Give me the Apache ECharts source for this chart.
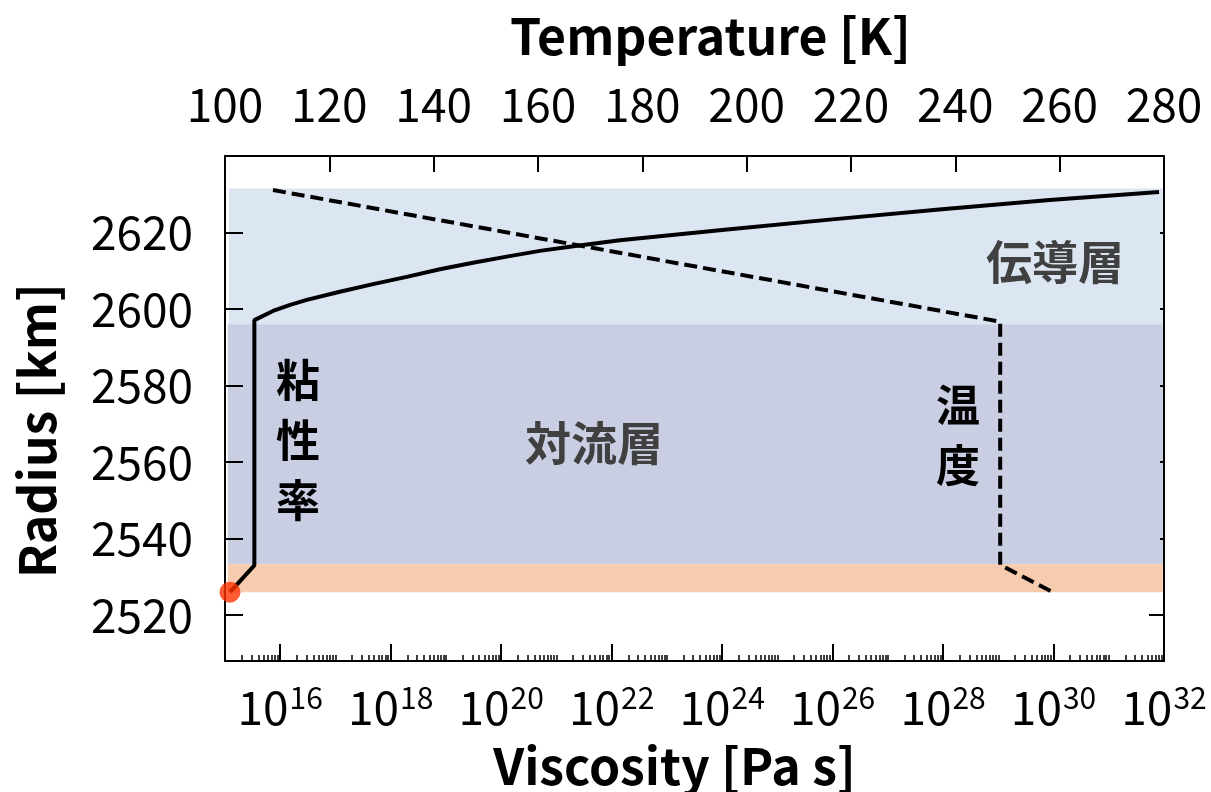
<!DOCTYPE html>
<html>
<head>
<meta charset="utf-8">
<script src="https://cdn.jsdelivr.net/npm/echarts@6/dist/echarts.min.js"></script>
<style>
  html, body { margin: 0; padding: 0; background: #fff; }
  #chart { width: 1211px; height: 792px; }
</style>
</head>
<body>
<div id="chart"></div>
<script>
// Viscosity profile (Pa s) against radius (km)
const viscosity = [1.23e15, 3.4e15, 3.4e15, 7.41e15, 1.51e16, 3.02e16, 1.20e17, 4.79e17, 1.95e18, 7.76e18,
                   3.09e19, 1.26e20, 5.01e20, 2.04e21, 1.41e22, 1.23e24, 1.10e26, 9.55e27, 8.51e29, 8.13e31];
const radiusViscosity = [2526.0, 2533.0, 2597.1, 2599.5, 2601.1, 2602.4, 2604.5, 2606.5, 2608.4, 2610.4,
                         2612.1, 2613.7, 2615.2, 2616.4, 2618.0, 2620.8, 2623.5, 2626.1, 2628.5, 2630.6];

// Temperature profile (K) against radius (km)
const temperature = [109.2, 248.6, 248.6, 258.8];
const radiusTemperature = [2631.1, 2596.7, 2533.1, 2525.9];

// Layer boundaries (km)
const conductiveLayer = [2596.0, 2631.5];
const convectiveLayer = [2533.3, 2596.0];
const bottomLayer = [2526.0, 2533.3];

// Axis ticks
const radiusTicks = [2520, 2540, 2560, 2580, 2600, 2620];
const radiusRange = [2508, 2640];
const viscosityExponents = [16, 18, 20, 22, 24, 26, 28, 30, 32];
const viscosityRange = [15, 32];
const temperatureRange = [100, 280];

const FONT = 'Noto Sans CJK JP';

// minor ticks of the log axis: k * 10^d between the labelled decades
const minorTicks = [];
for (let d = viscosityRange[0]; d < viscosityRange[1]; d++) {
  for (let k = 1; k <= 9; k++) {
    if (k === 1 && viscosityExponents.indexOf(d) >= 0) continue;
    minorTicks.push(d + Math.log10(k));
  }
}

const chart = echarts.init(document.getElementById('chart'), null, { renderer: 'canvas' });

chart.setOption({
  backgroundColor: '#fff',
  animation: false,
  textStyle: { fontFamily: FONT },
  grid: { left: 225, right: 47, top: 156, bottom: 131, containLabel: false, outerBoundsMode: 'none' },
  xAxis: [
    {
      type: 'value', position: 'bottom', min: viscosityRange[0], max: viscosityRange[1], z: 10,
      name: 'Viscosity [Pa s]', nameLocation: 'middle', nameGap: 80,
      nameTextStyle: { fontFamily: FONT, fontSize: 50, fontWeight: 'bold', color: '#000', padding: [0, 40, 0, 0] },
      axisLine: { show: true, lineStyle: { color: '#000', width: 2 } },
      axisTick: { show: true, inside: true, length: 17, customValues: viscosityExponents, lineStyle: { color: '#000', width: 2 } },
      axisLabel: {
        customValues: viscosityExponents, margin: 22,
        formatter: v => '{b|10}{s|' + v + '}',
        rich: {
          b: { fontFamily: FONT, fontSize: 46, color: '#000', lineHeight: 50 },
          s: { fontFamily: FONT, fontSize: 30, color: '#000', verticalAlign: 'top', lineHeight: 30, padding: [0, 0, 0, 1] }
        }
      },
      splitLine: { show: false }
    },
    {
      type: 'value', position: 'bottom', min: viscosityRange[0], max: viscosityRange[1], z: 10,
      axisLine: { show: false },
      axisTick: { show: true, inside: true, length: 6, customValues: minorTicks, lineStyle: { color: '#000', width: 1.5 } },
      axisLabel: { show: false },
      splitLine: { show: false }
    },
    {
      type: 'value', position: 'top', min: temperatureRange[0], max: temperatureRange[1], interval: 20, z: 10,
      name: 'Temperature [K]', nameLocation: 'middle', nameGap: 95,
      nameTextStyle: { fontFamily: FONT, fontSize: 50, fontWeight: 'bold', color: '#000', padding: [0, 0, 0, 32] },
      axisLine: { show: true, lineStyle: { color: '#000', width: 2 } },
      axisTick: { show: true, inside: true, length: 16, lineStyle: { color: '#000', width: 2 } },
      axisLabel: { margin: 28, fontFamily: FONT, fontSize: 46, color: '#000' },
      splitLine: { show: false }
    }
  ],
  yAxis: [
    {
      type: 'value', position: 'left', min: radiusRange[0], max: radiusRange[1], z: 10,
      name: 'Radius [km]', nameLocation: 'middle', nameGap: 163, nameRotate: 90,
      nameTextStyle: { fontFamily: FONT, fontSize: 50, fontWeight: 'bold', color: '#000', padding: [0, 44, 0, 0] },
      axisLine: { show: true, lineStyle: { color: '#000', width: 2 } },
      axisTick: { show: true, inside: true, length: 18, customValues: radiusTicks, lineStyle: { color: '#000', width: 2 } },
      axisLabel: { customValues: radiusTicks, margin: 32, fontFamily: FONT, fontSize: 46, color: '#000', formatter: v => String(v) },
      splitLine: { show: false }
    },
    {
      type: 'value', position: 'right', min: radiusRange[0], max: radiusRange[1], z: 10,
      axisLine: { show: true, lineStyle: { color: '#000', width: 2 } },
      axisTick: { show: true, inside: true, length: 4, customValues: radiusTicks, lineStyle: { color: '#000', width: 2 } },
      axisLabel: { show: false },
      splitLine: { show: false }
    },
    {
      type: 'value', position: 'right', min: radiusRange[0], max: radiusRange[1], z: 10,
      axisLine: { show: false },
      axisTick: { show: true, inside: true, length: 15, customValues: [radiusTicks[0]], lineStyle: { color: '#000', width: 2 } },
      axisLabel: { show: false },
      splitLine: { show: false }
    }
  ],
  series: [
    {
      // layer shading
      type: 'line', xAxisIndex: 0, yAxisIndex: 0, data: [], z: 1, silent: true,
      markArea: {
        silent: true,
        data: [
          [{ xAxis: 15.07, yAxis: conductiveLayer[0], itemStyle: { color: '#dce6f2' } }, { xAxis: 31.98, yAxis: conductiveLayer[1] }],
          [{ xAxis: 15.05, yAxis: convectiveLayer[0], itemStyle: { color: '#c9cee2' } }, { xAxis: 31.98, yAxis: convectiveLayer[1] }],
          [{ xAxis: 15.05, yAxis: bottomLayer[0], itemStyle: { color: '#f7cbad' } }, { xAxis: 31.98, yAxis: bottomLayer[1] }]
        ]
      }
    },
    {
      name: '粘性率', type: 'line', xAxisIndex: 0, yAxisIndex: 0, z: 3,
      showSymbol: false, symbol: 'none',
      lineStyle: { color: '#000', width: 4 },
      data: viscosity.map((v, i) => [Math.log10(v), radiusViscosity[i]])
    },
    {
      name: 'base', type: 'scatter', xAxisIndex: 0, yAxisIndex: 0, z: 12,
      symbolSize: 21, itemStyle: { color: '#ff3300' },
      data: [[Math.log10(viscosity[0]), radiusViscosity[0]]]
    },
    {
      name: '温度', type: 'line', xAxisIndex: 2, yAxisIndex: 0, z: 3,
      showSymbol: false, symbol: 'none',
      lineStyle: { color: '#000', width: 4, type: [13, 6] },
      data: temperature.map((t, i) => [t, radiusTemperature[i]])
    }
  ],
  graphic: [
    { type: 'text', x: 1055, y: 262, style: { text: '伝導層', font: 'bold 46px "Noto Sans CJK JP"', fill: '#404040', align: 'center', verticalAlign: 'middle' }, z: 20 },
    { type: 'text', x: 594, y: 443, style: { text: '対流層', font: 'bold 46px "Noto Sans CJK JP"', fill: '#404040', align: 'center', verticalAlign: 'middle' }, z: 20 },
    { type: 'text', x: 298, y: 440, style: { text: '粘\n性\n率', font: 'bold 44px "Noto Sans CJK JP"', lineHeight: 60, fill: '#000', align: 'center', verticalAlign: 'middle' }, z: 20 },
    { type: 'text', x: 958, y: 435, style: { text: '温\n度', font: 'bold 44px "Noto Sans CJK JP"', lineHeight: 60, fill: '#000', align: 'center', verticalAlign: 'middle' }, z: 20 }
  ]
});
</script>
</body>
</html>
